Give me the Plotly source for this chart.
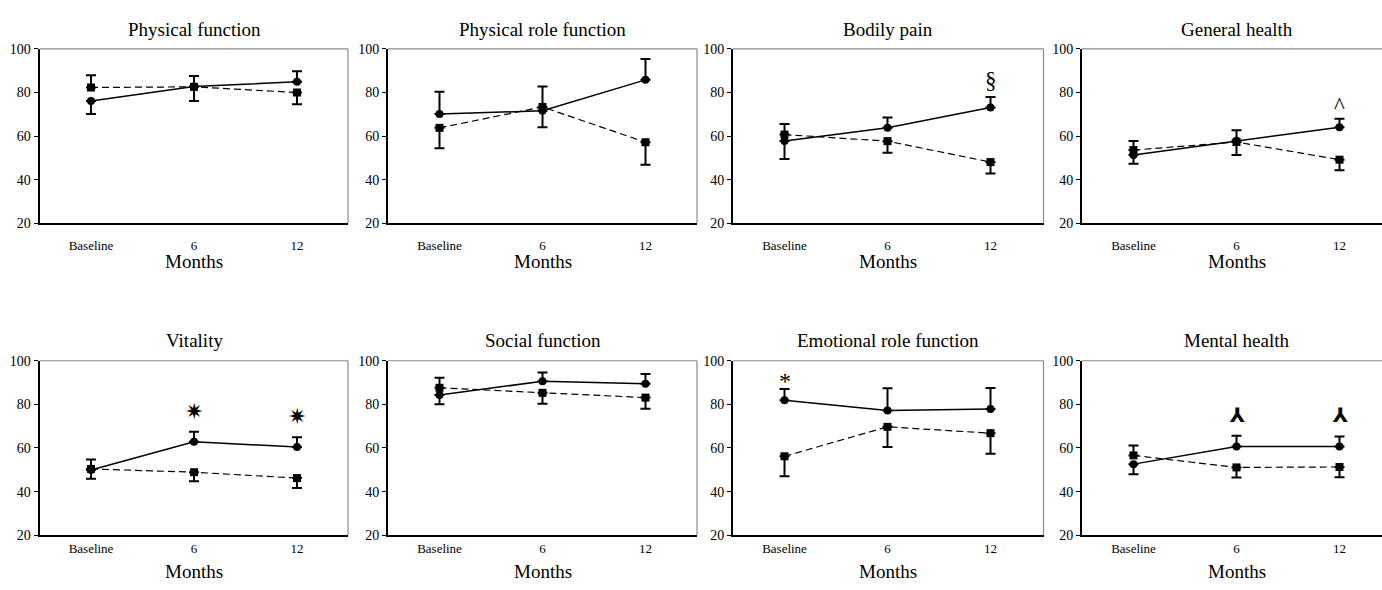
import plotly.graph_objects as go

# ---------------- data ----------------
months = ["Baseline", "6", "12"]
titles = ["Physical function", "Physical role function", "Bodily pain", "General health",
          "Vitality", "Social function", "Emotional role function", "Mental health"]

# solid line, circle markers
circ_vals = [
    [76.1, 82.8, 84.9],
    [70.1, 71.6, 85.8],
    [57.8, 63.8, 73.1],
    [51.4, 57.9, 64.1],
    [49.9, 62.9, 60.4],
    [84.3, 90.6, 89.5],
    [81.9, 77.2, 77.9],
    [52.6, 60.7, 60.7],
]
circ_up = [
    [0, 4.8, 4.9],
    [10.2, 0, 9.6],
    [0, 4.8, 4.8],
    [0, 4.8, 3.9],
    [0, 4.5, 4.5],
    [0, 4.0, 4.4],
    [5.2, 10.2, 9.6],
    [0, 4.9, 4.6],
]
circ_down = [
    [6.0, 0, 0],
    [0, 7.5, 0],
    [8.3, 0, 0],
    [4.1, 0, 0],
    [4.0, 0, 0],
    [4.2, 0, 0],
    [0, 0, 0],
    [4.6, 0, 0],
]

# dashed line, square markers
sq_vals = [
    [82.3, 82.6, 80.0],
    [63.8, 73.4, 57.2],
    [60.7, 57.7, 48.1],
    [53.6, 57.3, 49.2],
    [50.4, 48.9, 46.2],
    [87.6, 85.3, 83.1],
    [56.2, 69.7, 66.8],
    [56.6, 51.1, 51.3],
]
sq_up = [
    [5.6, 0, 0],
    [0, 9.4, 0],
    [4.9, 0, 0],
    [4.2, 0, 0],
    [4.3, 0, 0],
    [4.6, 0, 0],
    [0, 0, 0],
    [4.5, 0, 0],
]
sq_down = [
    [0, 6.5, 5.4],
    [9.4, 0, 10.3],
    [0, 5.3, 5.2],
    [0, 5.9, 4.8],
    [0, 4.2, 4.5],
    [0, 5.0, 5.1],
    [9.2, 9.3, 9.4],
    [0, 4.6, 4.7],
]

# significance symbols: (panel index, month, symbol, y)
sig_marks = [
    (2, "12", "§", 85.5),
    (3, "12", "^", 74.0),
    (4, "6", "✷", 76.8),
    (4, "12", "✷", 74.3),
    (6, "Baseline", "*", 90.5),
    (7, "6", "⅄", 75.3),
    (7, "12", "⅄", 75.3),
]

y_ticks = [20, 40, 60, 80, 100]

# ---------------- layout geometry ----------------
W, H = 1382, 590
col_px = [(39.5, 348), (388, 697), (733, 1043.5), (1082, 1382)]
row_px = [(43, 222), (363, 542)]  # (top, bottom) pixels
title_y = [23, 342]
months_y = [261, 579]
xlabel_gap = [9, 0]  # space between axis line and month labels per row
STEP = 103.0  # px between categories

def fx(px):
    return px / W

def fy(py):
    return 1 - py / H

FONT = "Liberation Serif, Times New Roman, serif"

fig = go.Figure()
layout = dict(
    width=W, height=H,
    margin=dict(l=0, r=0, t=0, b=0),
    paper_bgcolor="white", plot_bgcolor="white",
    showlegend=False,
    font=dict(family=FONT, color="black"),
)
shapes = []
annotations = []

for i in range(8):
    r, c = divmod(i, 4)
    n = i + 1
    xa = "x" if n == 1 else f"x{n}"
    ya = "y" if n == 1 else f"y{n}"
    xkey = "xaxis" if n == 1 else f"xaxis{n}"
    ykey = "yaxis" if n == 1 else f"yaxis{n}"
    x0, x1 = col_px[c]
    top, bot = row_px[r]
    xr = [-0.5, -0.5 + (x1 - x0) / STEP]
    layout[xkey] = dict(
        domain=[fx(x0), fx(x1)], anchor=ya, type="category", range=xr,
        categoryorder="array", categoryarray=months,
        showline=True, linecolor="black", linewidth=2,
        ticks="outside" if xlabel_gap[r] > 0 else "", ticklen=max(xlabel_gap[r], 1),
        tickcolor="rgba(0,0,0,0)",
        tickfont=dict(family=FONT, size=13, color="black"),
        showgrid=False, zeroline=False, fixedrange=True,
    )
    layout[ykey] = dict(
        domain=[fy(bot), fy(top)], anchor=xa, range=[20, 100],
        tickvals=y_ticks, ticktext=[str(v) for v in y_ticks],
        showline=True, linecolor="black", linewidth=2,
        ticks="outside", ticklen=4, tickcolor="black", tickwidth=1,
        tickfont=dict(family=FONT, size=14, color="black"),
        showgrid=False, zeroline=False, fixedrange=True,
    )
    # thin gray top / right frame
    shapes.append(dict(type="line", xref=f"{xa} domain", yref=f"{ya} domain",
                       x0=0, x1=1, y0=1, y1=1, line=dict(color="#8a8a8a", width=1.2)))
    if c < 3:
        shapes.append(dict(type="line", xref=f"{xa} domain", yref=f"{ya} domain",
                           x0=1, x1=1, y0=0, y1=1, line=dict(color="#8a8a8a", width=1.2)))

    # square (dashed) series
    fig.add_trace(go.Scatter(
        x=months, y=sq_vals[i], xaxis=xa, yaxis=ya, mode="lines+markers",
        line=dict(color="black", width=1.2, dash="7px,4px"),
        marker=dict(symbol="square", size=8, color="black"),
        error_y=dict(type="data", symmetric=False, array=sq_up[i], arrayminus=sq_down[i],
                     color="black", thickness=2, width=5),
        cliponaxis=False, hoverinfo="skip",
    ))
    # circle (solid) series
    fig.add_trace(go.Scatter(
        x=months, y=circ_vals[i], xaxis=xa, yaxis=ya, mode="lines+markers",
        line=dict(color="black", width=1.5),
        marker=dict(symbol="circle", size=8, color="black"),
        error_y=dict(type="data", symmetric=False, array=circ_up[i], arrayminus=circ_down[i],
                     color="black", thickness=2, width=5),
        cliponaxis=False, hoverinfo="skip",
    ))

    xc = fx(x0 + 1.5 * STEP)
    annotations.append(dict(text=titles[i], x=xc, y=fy(title_y[r]), xref="paper", yref="paper",
                            showarrow=False, xanchor="center", yanchor="middle", borderpad=0,
                            font=dict(family=FONT, size=19, color="black")))
    annotations.append(dict(text="Months", x=xc, y=fy(months_y[r]), xref="paper", yref="paper",
                            showarrow=False, xanchor="center", yanchor="middle", borderpad=0,
                            font=dict(family=FONT, size=19, color="black")))

for (p, m, sym, yv) in sig_marks:
    n = p + 1
    xa = "x" if n == 1 else f"x{n}"
    ya = "y" if n == 1 else f"y{n}"
    text = sym
    if sym == "✷":
        f = dict(family="DejaVu Sans", size=22, color="black")
    elif sym == "⅄":
        f = dict(family="DejaVu Sans", size=20, color="black")
        text = "<b>" + sym + "</b>"
    elif sym == "*":
        f = dict(family=FONT, size=24, color="black")
    else:
        f = dict(family=FONT, size=23, color="black")
    annotations.append(dict(text=text, x=months.index(m), y=yv, xref=xa, yref=ya, showarrow=False,
                            xanchor="center", yanchor="middle", font=f))

layout["shapes"] = shapes
layout["annotations"] = annotations
fig.update_layout(**layout)
fig.write_html(
    "out.html",
    config={"displayModeBar": False, "staticPlot": True},
    post_script="document.body.style.margin='0px';document.body.style.overflow='hidden';",
)
